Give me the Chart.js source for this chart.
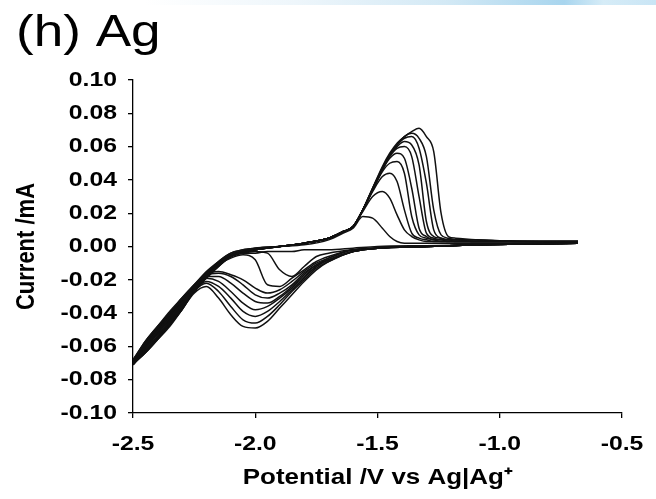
<!DOCTYPE html>
<html>
<head>
<meta charset="utf-8">
<script src="https://cdn.jsdelivr.net/npm/chart.js@4.4.1/dist/chart.umd.min.js"></script>
<style>
  html, body { margin: 0; padding: 0; background: #fff; }
  #wrap { position: relative; width: 656px; height: 499px; }
  #band {
    position: absolute; left: 0; top: 0; width: 656px; height: 5px;
    background: linear-gradient(to right, rgba(255,255,255,0) 22%, #eef6fb 45%, #d3e9f5 68%, #a8d5ee 86%, #d6ecf7 92%, #c9e5f5 100%);
  }
  canvas { position: absolute; left: 0; top: 0; }
</style>
</head>
<body>
<div id="wrap">
  <div id="band"></div>
  <canvas id="cv" width="656" height="499"></canvas>
</div>
<script>
// potentials (V vs Ag|Ag+) of the negative-going and positive-going sweeps
const cathodicPotential = [-0.68, -0.9, -1.1, -1.3, -1.5, -1.6, -1.7, -1.75, -1.8, -1.85, -1.9, -1.95,
  -2.0, -2.05, -2.1, -2.15, -2.2, -2.25, -2.3, -2.35, -2.4, -2.45, -2.5];
const anodicPotential = [-2.5, -2.45, -2.4, -2.35, -2.3, -2.25, -2.2, -2.15, -2.1, -2.0, -1.9, -1.8, -1.7,
  -1.64, -1.6, -1.56, -1.52, -1.48, -1.45, -1.42, -1.39, -1.36, -1.33, -1.3, -1.27, -1.24, -1.21, -1.18,
  -1.1, -0.9, -0.68];

// current (mA) on the negative-going sweep, one row per cycle
const cathodicCurrent = [
  [0.002, 0.0015, 0.001, 0.0005, 0.000, -0.001, -0.002, -0.002, -0.002, -0.003, -0.003, -0.003, -0.004, -0.004, -0.005, -0.009, -0.016, -0.025, -0.034, -0.043, -0.051, -0.059, -0.068],
  [0.002, 0.0015, 0.001, 0.000, -0.001, -0.002, -0.004, -0.006, -0.012, -0.018, -0.014, -0.004, -0.003, -0.004, -0.006, -0.010, -0.017, -0.026, -0.035, -0.044, -0.052, -0.060, -0.068],
  [0.002, 0.0015, 0.001, 0.000, -0.001, -0.002, -0.006, -0.009, -0.014, -0.019, -0.024, -0.023, -0.008, -0.005, -0.007, -0.011, -0.018, -0.026, -0.036, -0.045, -0.053, -0.061, -0.069],
  [0.002, 0.0015, 0.001, 0.000, -0.001, -0.002, -0.007, -0.010, -0.015, -0.021, -0.026, -0.028, -0.025, -0.020, -0.017, -0.015, -0.017, -0.025, -0.036, -0.045, -0.054, -0.062, -0.069],
  [0.002, 0.0015, 0.001, 0.000, -0.001, -0.002, -0.007, -0.011, -0.016, -0.023, -0.028, -0.031, -0.029, -0.023, -0.018, -0.016, -0.017, -0.026, -0.037, -0.046, -0.054, -0.062, -0.070],
  [0.002, 0.0015, 0.001, 0.000, -0.001, -0.003, -0.008, -0.011, -0.017, -0.024, -0.030, -0.034, -0.033, -0.028, -0.022, -0.018, -0.018, -0.026, -0.037, -0.046, -0.055, -0.063, -0.070],
  [0.002, 0.0015, 0.001, 0.000, -0.001, -0.003, -0.008, -0.012, -0.018, -0.025, -0.031, -0.036, -0.038, -0.034, -0.027, -0.021, -0.019, -0.026, -0.037, -0.047, -0.055, -0.063, -0.071],
  [0.002, 0.0015, 0.001, 0.000, -0.001, -0.003, -0.008, -0.012, -0.019, -0.026, -0.033, -0.039, -0.042, -0.039, -0.031, -0.024, -0.021, -0.027, -0.038, -0.047, -0.055, -0.063, -0.071],
  [0.002, 0.0015, 0.001, 0.000, -0.001, -0.003, -0.009, -0.013, -0.020, -0.027, -0.035, -0.042, -0.046, -0.044, -0.036, -0.027, -0.022, -0.027, -0.038, -0.047, -0.056, -0.064, -0.071],
  [0.002, 0.0015, 0.001, 0.000, -0.001, -0.003, -0.009, -0.014, -0.021, -0.029, -0.037, -0.045, -0.049, -0.048, -0.041, -0.031, -0.024, -0.028, -0.038, -0.048, -0.056, -0.064, -0.071]
];

// current (mA) on the positive-going sweep, one row per cycle
const anodicCurrent = [
  [-0.068, -0.057, -0.048, -0.039, -0.031, -0.023, -0.015, -0.009, -0.004, -0.001, 0.000, 0.001, 0.004, 0.008, 0.011, 0.018, 0.017, 0.011, 0.006, 0.003, 0.002, 0.002, 0.002, 0.002, 0.002, 0.002, 0.002, 0.002, 0.002, 0.002, 0.002],
  [-0.068, -0.057, -0.048, -0.040, -0.031, -0.023, -0.016, -0.009, -0.004, -0.001, 0.000, 0.002, 0.005, 0.009, 0.012, 0.021, 0.030, 0.033, 0.029, 0.019, 0.010, 0.006, 0.004, 0.003, 0.003, 0.003, 0.003, 0.003, 0.003, 0.003, 0.002],
  [-0.069, -0.058, -0.049, -0.040, -0.032, -0.024, -0.016, -0.010, -0.005, -0.001, 0.000, 0.002, 0.005, 0.009, 0.012, 0.022, 0.033, 0.042, 0.044, 0.039, 0.022, 0.008, 0.005, 0.004, 0.003, 0.003, 0.003, 0.003, 0.003, 0.003, 0.002],
  [-0.069, -0.058, -0.049, -0.041, -0.032, -0.024, -0.017, -0.010, -0.005, -0.002, 0.000, 0.002, 0.005, 0.009, 0.012, 0.022, 0.034, 0.045, 0.050, 0.051, 0.044, 0.018, 0.007, 0.005, 0.004, 0.003, 0.003, 0.003, 0.003, 0.003, 0.003],
  [-0.070, -0.059, -0.050, -0.041, -0.033, -0.025, -0.017, -0.010, -0.005, -0.002, 0.000, 0.002, 0.005, 0.009, 0.012, 0.022, 0.034, 0.046, 0.053, 0.056, 0.053, 0.035, 0.011, 0.006, 0.004, 0.004, 0.003, 0.003, 0.003, 0.003, 0.003],
  [-0.070, -0.059, -0.050, -0.042, -0.033, -0.025, -0.017, -0.011, -0.005, -0.002, 0.000, 0.002, 0.005, 0.009, 0.012, 0.022, 0.034, 0.046, 0.054, 0.059, 0.060, 0.054, 0.030, 0.008, 0.005, 0.004, 0.004, 0.003, 0.003, 0.003, 0.003],
  [-0.070, -0.060, -0.051, -0.042, -0.034, -0.025, -0.018, -0.011, -0.006, -0.002, 0.000, 0.002, 0.005, 0.009, 0.012, 0.022, 0.034, 0.047, 0.055, 0.060, 0.063, 0.061, 0.049, 0.015, 0.006, 0.005, 0.004, 0.004, 0.003, 0.003, 0.003],
  [-0.071, -0.060, -0.051, -0.043, -0.034, -0.026, -0.018, -0.011, -0.006, -0.002, 0.000, 0.002, 0.005, 0.009, 0.012, 0.022, 0.035, 0.047, 0.055, 0.061, 0.065, 0.066, 0.059, 0.038, 0.010, 0.005, 0.004, 0.004, 0.003, 0.003, 0.003],
  [-0.071, -0.061, -0.052, -0.043, -0.035, -0.026, -0.019, -0.012, -0.006, -0.002, 0.000, 0.002, 0.005, 0.009, 0.012, 0.022, 0.035, 0.047, 0.055, 0.061, 0.066, 0.068, 0.065, 0.054, 0.022, 0.007, 0.005, 0.004, 0.004, 0.003, 0.003],
  [-0.071, -0.061, -0.052, -0.044, -0.035, -0.027, -0.019, -0.012, -0.006, -0.002, 0.000, 0.002, 0.005, 0.009, 0.012, 0.022, 0.035, 0.048, 0.056, 0.062, 0.066, 0.069, 0.071, 0.066, 0.057, 0.020, 0.006, 0.005, 0.004, 0.003, 0.003]
];

const xTicks = [-2.5, -2.0, -1.5, -1.0, -0.5];
const yTicks = [-0.10, -0.08, -0.06, -0.04, -0.02, 0.00, 0.02, 0.04, 0.06, 0.08, 0.10];

const FONT = '"Liberation Sans", Arial, Helvetica, sans-serif';
const TEXT_STRETCH = 1.18; // lettering in this figure is set wide

// one closed loop per cycle: sweep down to -2.5 V, then back up
const datasets = cathodicCurrent.map((down, i) => {
  const pts = cathodicPotential.map((v, j) => ({ x: v, y: down[j] }));
  anodicPotential.forEach((v, j) => {
    if (j > 0) pts.push({ x: v, y: anodicCurrent[i][j] });
  });
  return {
    label: 'cycle ' + (i + 1),
    data: pts,
    borderColor: '#111',
    borderWidth: 1.5,
    pointRadius: 0,
    fill: false,
    cubicInterpolationMode: 'monotone'
  };
});

function wideText(ctx, text, x, y, align, vertical) {
  ctx.save();
  ctx.translate(x, y);
  ctx.scale(TEXT_STRETCH, 1);
  if (vertical) ctx.rotate(-Math.PI / 2);
  ctx.textAlign = align;
  ctx.fillText(text, 0, 0);
  ctx.restore();
}

// panel label, tick labels and axis titles
const lettering = {
  id: 'lettering',
  afterDraw(chart) {
    const { ctx, scales: { x, y } } = chart;
    ctx.save();
    ctx.fillStyle = '#000';

    ctx.textBaseline = 'alphabetic';
    ctx.font = '45px ' + FONT;
    wideText(ctx, '(h) Ag', 16, 46, 'left');

    ctx.textBaseline = 'middle';
    ctx.font = 'bold 21px ' + FONT;
    xTicks.forEach(v => wideText(ctx, v.toFixed(1), x.getPixelForValue(v), 444, 'center'));
    yTicks.forEach(v => wideText(ctx, v.toFixed(2), 117, y.getPixelForValue(v), 'right'));

    ctx.font = 'bold 22px ' + FONT;
    wideText(ctx, 'Potential /V vs Ag|Ag\u207A', (x.left + x.right) / 2, 478, 'center');
    wideText(ctx, 'Current /mA', 27, (y.top + y.bottom) / 2, 'center', true);
    ctx.restore();
  }
};

const axisCommon = {
  grid: { display: true, drawOnChartArea: false, drawTicks: true, tickLength: 5, color: '#000', lineWidth: 1.3 },
  border: { display: true, color: '#000', width: 1.3 },
  ticks: { display: false },
  title: { display: false }
};

new Chart(document.getElementById('cv'), {
  type: 'line',
  data: { datasets },
  options: {
    responsive: false,
    animation: false,
    devicePixelRatio: 1,
    layout: { padding: { top: 80, right: 34, left: 0, bottom: 0 } },
    plugins: { legend: { display: false }, tooltip: { enabled: false } },
    scales: {
      x: {
        ...axisCommon,
        type: 'linear',
        min: -2.5,
        max: -0.5,
        afterBuildTicks: (scale) => { scale.ticks = xTicks.map(v => ({ value: v })); },
        afterFit: (scale) => { scale.height = 86; }
      },
      y: {
        ...axisCommon,
        type: 'linear',
        min: -0.1,
        max: 0.1,
        afterBuildTicks: (scale) => { scale.ticks = yTicks.map(v => ({ value: v })); },
        afterFit: (scale) => { scale.width = 133; }
      }
    }
  },
  plugins: [lettering]
});
</script>
</body>
</html>
